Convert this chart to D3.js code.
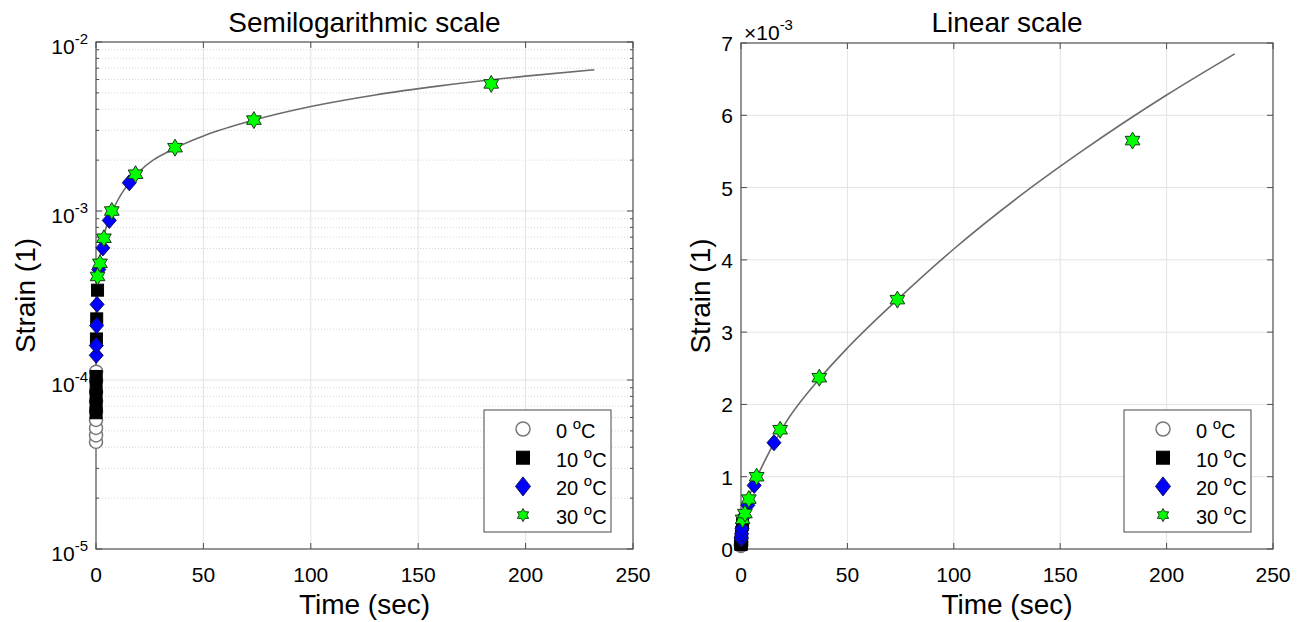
<!DOCTYPE html>
<html><head><meta charset="utf-8">
<script src="https://cdn.jsdelivr.net/npm/d3@7"></script>
<style>body{margin:0;background:#fff} text{font-family:"Liberation Sans",Arial,Helvetica,sans-serif;fill:#000}</style>
</head><body>
<svg id="c" width="1307" height="622"></svg>
<script>
// ---------------- data ----------------
const titles = ["Semilogarithmic scale", "Linear scale"];
const xTicks = [0, 50, 100, 150, 200, 250];
const logTicks = [-5, -4, -3, -2];
const linTicks = [0, 1, 2, 3, 4, 5, 6, 7];
const legendLabels = ["0", "10", "20", "30"];

// master curve (time s, strain)
const curveT = [0.01, 0.02, 0.05, 0.1, 0.2, 0.5, 1, 2, 5, 10, 20, 37, 50, 73.5, 100, 130, 160, 200, 232];
const curveS = [4.0e-5, 5.6e-5, 9.0e-5, 1.3e-4, 1.85e-4, 3.0e-4, 4.2e-4, 5.5e-4, 8.2e-4, 1.15e-3, 1.7e-3, 2.36e-3, 2.78e-3, 3.45e-3, 4.15e-3, 4.86e-3, 5.5e-3, 6.28e-3, 6.85e-3];

// 0 °C
const t0 = [0.012, 0.014, 0.017, 0.021, 0.026, 0.035, 0.045, 0.062, 0.078];
const s0 = [4.3e-5, 4.7e-5, 5.2e-5, 5.8e-5, 6.5e-5, 7.5e-5, 8.5e-5, 1.0e-4, 1.12e-4];
// 10 °C
const t10 = [0.026, 0.031, 0.04, 0.052, 0.069, 0.19, 0.33, 0.72];
const s10 = [6.4e-5, 7.0e-5, 8.0e-5, 9.1e-5, 1.05e-4, 1.75e-4, 2.3e-4, 3.4e-4];
// 20 °C
const t20 = [0.12, 0.16, 0.28, 0.5, 1.3, 3.2, 6.2, 15.5];
const s20 = [1.4e-4, 1.6e-4, 2.1e-4, 2.8e-4, 4.5e-4, 6.05e-4, 8.8e-4, 1.47e-3];
// 30 °C
const t30 = [0.74, 1.84, 3.68, 7.35, 18.4, 36.8, 73.5, 184];
const s30 = [4.1e-4, 4.9e-4, 6.9e-4, 1.0e-3, 1.65e-3, 2.37e-3, 3.45e-3, 5.65e-3];

// ---------------- drawing ----------------
const svg = d3.select("#c");
const panels = [
  {x0: 96, x1: 633, y0: 42, y1: 549, log: true, lx: 35},
  {x0: 741, x1: 1273, y0: 43, y1: 549, log: false, lx: 710}
];
const axisCol = "#4d4d4d";
const gridCol = "#e3e3e3";

function hexagram(R) {
  const r = R / Math.sqrt(3), pts = [];
  for (let i = 0; i < 12; i++) {
    const a = -Math.PI / 2 + i * Math.PI / 6;
    const rr = i % 2 === 0 ? R : r;
    pts.push([rr * Math.cos(a), rr * Math.sin(a)]);
  }
  return "M" + pts.map(p => p.join(",")).join("L") + "Z";
}
function drawMarker(g, kind, x, y, legend) {
  if (kind === 0) {
    g.append("circle").attr("cx", x).attr("cy", y).attr("r", legend ? 7 : 6.5)
      .attr("fill", "#fff").attr("stroke", "#777").attr("stroke-width", 1.5);
  } else if (kind === 1) {
    const s = legend ? 13 : 12;
    g.append("rect").attr("x", x - s / 2).attr("y", y - s / 2).attr("width", s).attr("height", s)
      .attr("fill", "#000").attr("stroke", "#000");
  } else if (kind === 2) {
    const w = legend ? 7.5 : 7, h = legend ? 9.5 : 8;
    g.append("path").attr("d", `M${x},${y - h}L${x + w},${y}L${x},${y + h}L${x - w},${y}Z`)
      .attr("fill", "#0000ff").attr("stroke", "#10105a").attr("stroke-width", 1);
  } else {
    g.append("path").attr("d", hexagram(legend ? 6.5 : 8.5)).attr("transform", `translate(${x},${y})`)
      .attr("fill", "#00ff00").attr("stroke", "#1a3a1a").attr("stroke-width", 1);
  }
}

const series = [[t0, s0], [t10, s10], [t20, s20], [t30, s30]];

panels.forEach((p, pi) => {
  const g = svg.append("g");
  const x = d3.scaleLinear().domain([0, 250]).range([p.x0, p.x1]);
  const y = p.log ? d3.scaleLog().domain([1e-5, 1e-2]).range([p.y1, p.y0])
                  : d3.scaleLinear().domain([0, 7e-3]).range([p.y1, p.y0]);

  // grid
  const grid = g.append("g");
  xTicks.slice(1, -1).forEach(v => grid.append("line").attr("x1", x(v)).attr("x2", x(v))
    .attr("y1", p.y0).attr("y2", p.y1).attr("stroke", gridCol));
  let minor = [];
  if (p.log) {
    logTicks.slice(1, -1).forEach(e => grid.append("line").attr("x1", p.x0).attr("x2", p.x1)
      .attr("y1", y(Math.pow(10, e))).attr("y2", y(Math.pow(10, e))).attr("stroke", gridCol));
    logTicks.slice(0, -1).forEach(e => { for (let m = 2; m <= 9; m++) minor.push(m * Math.pow(10, e)); });
    minor.forEach(v => grid.append("line").attr("x1", p.x0).attr("x2", p.x1)
      .attr("y1", y(v)).attr("y2", y(v)).attr("stroke", "#d6d6d6").attr("stroke-dasharray", "1,2"));
  } else {
    linTicks.slice(1, -1).forEach(v => grid.append("line").attr("x1", p.x0).attr("x2", p.x1)
      .attr("y1", y(v * 1e-3)).attr("y2", y(v * 1e-3)).attr("stroke", gridCol));
  }

  // ticks (inside, all sides)
  const tk = g.append("g").attr("stroke", axisCol);
  xTicks.forEach(v => {
    tk.append("line").attr("x1", x(v)).attr("x2", x(v)).attr("y1", p.y1).attr("y2", p.y1 - 6);
    tk.append("line").attr("x1", x(v)).attr("x2", x(v)).attr("y1", p.y0).attr("y2", p.y0 + 6);
  });
  const yt = p.log ? logTicks.map(e => Math.pow(10, e)) : linTicks.map(v => v * 1e-3);
  yt.forEach(v => {
    tk.append("line").attr("x1", p.x0).attr("x2", p.x0 + 6).attr("y1", y(v)).attr("y2", y(v));
    tk.append("line").attr("x1", p.x1).attr("x2", p.x1 - 6).attr("y1", y(v)).attr("y2", y(v));
  });
  minor.forEach(v => {
    tk.append("line").attr("x1", p.x0).attr("x2", p.x0 + 3).attr("y1", y(v)).attr("y2", y(v));
    tk.append("line").attr("x1", p.x1).attr("x2", p.x1 - 3).attr("y1", y(v)).attr("y2", y(v));
  });

  // tick labels
  xTicks.forEach(v => g.append("text").attr("x", x(v)).attr("y", 582).attr("text-anchor", "middle")
    .attr("font-size", 21).text(v));
  if (p.log) {
    logTicks.forEach(e => {
      const t = g.append("text").attr("x", p.x0 - 8).attr("y", y(Math.pow(10, e)) + 12)
        .attr("text-anchor", "end").attr("font-size", 21);
      t.append("tspan").text("10");
      t.append("tspan").attr("font-size", 15).attr("dy", -10).text("-" + (-e));
    });
  } else {
    linTicks.forEach(v => g.append("text").attr("x", p.x0 - 8).attr("y", y(v * 1e-3) + 8)
      .attr("text-anchor", "end").attr("font-size", 21).text(v));
    const t = g.append("text").attr("x", p.x0 + 3).attr("y", 40).attr("font-size", 21);
    t.append("tspan").text("\u00d710");
    t.append("tspan").attr("font-size", 15).attr("dy", -10).text("-3");
  }

  // box
  g.append("rect").attr("x", p.x0).attr("y", p.y0).attr("width", p.x1 - p.x0).attr("height", p.y1 - p.y0)
    .attr("fill", "none").attr("stroke", axisCol).attr("stroke-width", 1.2);

  // clip for data
  const cid = "clip" + pi;
  svg.append("clipPath").attr("id", cid).append("rect")
    .attr("x", p.x0 - 10).attr("y", p.y0).attr("width", p.x1 - p.x0 + 10).attr("height", p.y1 - p.y0 + 10);
  const dg = g.append("g").attr("clip-path", `url(#${cid})`);

  // curve
  const line = d3.line().x(d => x(d[0])).y(d => y(d[1])).curve(d3.curveMonotoneX);
  dg.append("path").datum(curveT.map((t, i) => [t, curveS[i]])).attr("d", line)
    .attr("fill", "none").attr("stroke", "#6b6b6b").attr("stroke-width", 1.6);

  // markers
  series.forEach((s, k) => {
    s[0].forEach((t, i) => drawMarker(dg, k, x(t), y(s[1][i]), false));
  });

  // legend
  const lx = p.x1 - 149, ly = 410;
  const lg = g.append("g");
  lg.append("rect").attr("x", lx).attr("y", ly).attr("width", 127).attr("height", 122)
    .attr("fill", "#fff").attr("stroke", "#666").attr("stroke-width", 1.2);
  legendLabels.forEach((lab, k) => {
    const yy = ly + 19 + k * 28.7;
    drawMarker(lg, k, lx + 39, yy, true);
    const t = lg.append("text").attr("x", lx + 72).attr("y", yy + 9).attr("font-size", 20);
    t.append("tspan").text(lab + " ");
    t.append("tspan").attr("font-size", 15).attr("dy", -9).text("o");
    t.append("tspan").attr("dy", 9).text("C");
  });

  // titles and axis labels
  g.append("text").attr("x", (p.x0 + p.x1) / 2).attr("y", 32).attr("text-anchor", "middle")
    .attr("font-size", 28).text(titles[pi]);
  g.append("text").attr("x", (p.x0 + p.x1) / 2).attr("y", 614).attr("text-anchor", "middle")
    .attr("font-size", 28).text("Time (sec)");
  g.append("text").attr("transform", `translate(${p.lx},${(p.y0 + p.y1) / 2}) rotate(-90)`)
    .attr("text-anchor", "middle").attr("font-size", 28).text("Strain (1)");
});
</script>
</body></html>
